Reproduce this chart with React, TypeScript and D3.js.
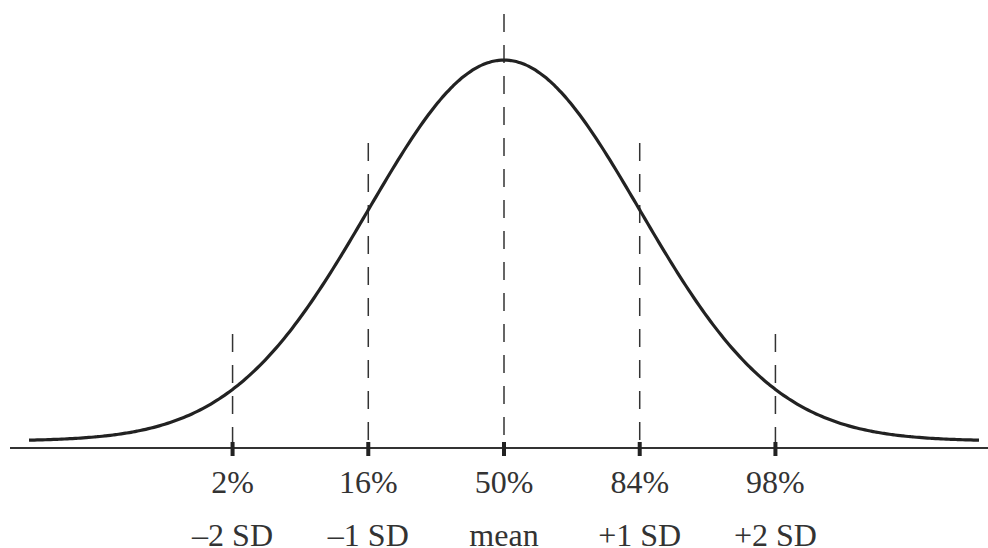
import React from "react";
import * as d3 from "d3";

// Data
const sdPositions = [-2, -1, 0, 1, 2];
const percentLabels = ["2%", "16%", "50%", "84%", "98%"];
const sdLabels = ["–2 SD", "–1 SD", "mean", "+1 SD", "+2 SD"];
// heights of dashed guide lines, in density units
const guideHeights = [0.112, 0.312, 0.447, 0.312, 0.112];
const curveDomain = [-3.5, 3.5];

const W = 988;
const H = 548;

const pdf = (z: number) => Math.exp(-0.5 * z * z) / Math.sqrt(2 * Math.PI);

export default function App() {
  const x = d3.scaleLinear().domain(curveDomain).range([29, 979]);
  const y = d3.scaleLinear().domain([0, pdf(0)]).range([441, 60]);
  const pts = d3.range(curveDomain[0], curveDomain[1] + 1e-9, 0.02);
  const line = d3
    .line<number>()
    .x((d) => x(d))
    .y((d) => y(pdf(d)))
    .curve(d3.curveBasis);
  const axisY = 448;
  const font = "'Liberation Serif', 'DejaVu Serif', serif";
  return (
    <svg
      width={W}
      height={H}
      style={{ position: "absolute", left: 0, top: 0, background: "#fff" }}
    >
      <line x1={10} x2={988} y1={axisY} y2={axisY} stroke="#333" strokeWidth={2} />
      {sdPositions.map((s, i) => (
        <g key={i}>
          <line
            x1={x(s)}
            x2={x(s)}
            y1={y(guideHeights[i])}
            y2={axisY}
            stroke="#333"
            strokeWidth={1.5}
            strokeDasharray="18 13"
          />
          <rect x={x(s) - 2} y={442} width={4} height={14} fill="#222" />
          <text
            x={x(s)}
            y={493}
            textAnchor="middle"
            fontFamily={font}
            fontSize={32}
            fill="#333"
          >
            {percentLabels[i]}
          </text>
          <text
            x={x(s)}
            y={546}
            textAnchor="middle"
            fontFamily={font}
            fontSize={32}
            fill="#333"
          >
            {sdLabels[i]}
          </text>
        </g>
      ))}
      <path d={line(pts) || ""} fill="none" stroke="#222" strokeWidth={3.2} />
    </svg>
  );
}
